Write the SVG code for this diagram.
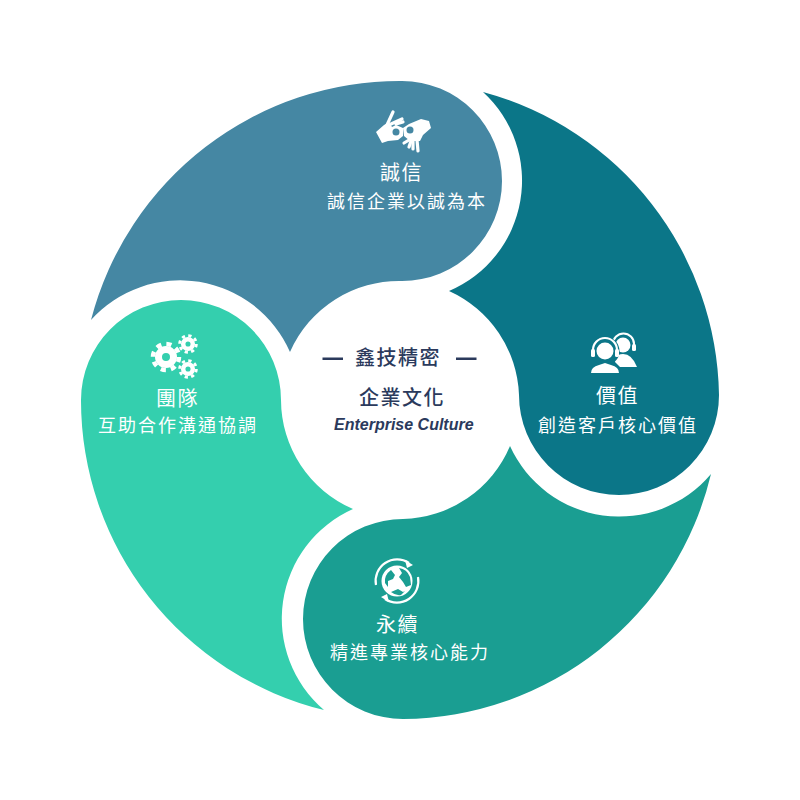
<svg xmlns="http://www.w3.org/2000/svg" xmlns:xlink="http://www.w3.org/1999/xlink" width="800" height="800" viewBox="0 0 800 800">
<style>
text{font-family:"Noto Sans CJK TC","Noto Sans",sans-serif}
.t{font-size:20px;fill:#fff;letter-spacing:1.5px}
.s{font-size:18px;fill:#fff;letter-spacing:2px}
.c{fill:#2b3a5c}
.i{fill:#fff}
.f{fill:none;stroke:#fff;stroke-linecap:round}
</style>
<defs>
<g id="gear"><circle r="7.5" fill="none" stroke="#fff" stroke-width="7"/><circle r="13" fill="none" stroke="#fff" stroke-width="4.500" stroke-dasharray="5.100 5.110"/></g>
</defs>
<rect width="800" height="800" fill="#fff"/>
<g id="node-top">
<path d="M91,320 A319,319 0 0 1 402,81 A100,100 0 0 1 402,281 A119,119 0 0 0 290,352 A120,120 0 0 0 91,320 Z" fill="#4587a3"/>
<g class="i"><path d="M376,132 L384,125 L389,122 L392,127 L396,125 L403,128 L403,136 L398,140 L388,141 L382,143 Z"/><path d="M429,121 L431,128 L423,135 L420,141 L410,141 L404,136 L403,128 L409,124 L421,119 Z"/></g>
<g class="f" stroke-width="3.200"><path d="M387,125 L393,112"/><path d="M391,124 L402,119"/><path d="M396,124 L403,122"/><path d="M417,140 L418,151"/><path d="M413,140 L413,149"/><path d="M409,140 L404,143"/><path d="M411,141 L409,147"/></g>
<circle cx="396" cy="132" r="3.500" fill="#4587a3"/><circle cx="410" cy="130" r="3.500" fill="#4587a3"/>
<text class="t" x="380" y="180">誠信</text>
<text class="s" x="327" y="208">誠信企業以誠為本</text>
</g>
<g id="node-right">
<path d="M483,92 A319,319 0 0 1 719,395 A100,100 0 0 1 519,395 A119,119 0 0 0 449,291 A120,120 0 0 0 483,92 Z" fill="#0b7688"/>
<g class="i"><circle cx="623" cy="345" r="7.500"/><path d="M614,358 Q618,354 623,354 Q632,354 637,367 L620,367 L615,362 Z"/><path d="M613,348 L613,344 A10.500,10.500 0 0 1 634,344 L634,350" fill="none" stroke="#fff" stroke-width="2"/><rect x="632" y="344" width="4" height="7" rx="1.500"/></g>
<circle cx="605" cy="351" r="14.500" fill="#0b7688"/>
<g class="i"><circle cx="605" cy="351" r="8.500"/><path d="M591,373 Q591,367 599,365 L605,363 L611,365 Q619,367 619,373 Z"/><path d="M593,355 L593,350 A12,12 0 0 1 617,350 L617,356" fill="none" stroke="#fff" stroke-width="2.200"/><rect x="591" y="349" width="4" height="8" rx="1.500"/><rect x="615" y="349" width="4" height="8" rx="1.500"/></g>
<text class="t" x="596" y="403">價值</text>
<text class="s" x="538" y="432">創造客戶核心價值</text>
</g>
<g id="node-bottom">
<path d="M711,474 A319,319 0 0 1 403,719 A100,100 0 0 1 403,519 A119,119 0 0 0 510,446 A120,120 0 0 0 711,474 Z" fill="#1a9e92"/>
<circle cx="397" cy="581" r="15.500" class="i"/>
<g fill="#1a9e92"><path d="M391,570 L395,575 L393,579 L388,581 L388,587 L385,583 Q384,575 391,570 Z"/><path d="M399,568 Q407,569 410,577 L411,585 L406,587 L403,582 L399,577 L402,573 Z"/><path d="M391,592 L398,589 L403,592 L405,591 L401,595 Q396,596 391,592 Z"/></g>
<path d="M376,585 A21.500,21.500 0 0 1 409,563 M418,577 A21.500,21.500 0 0 1 385,599" fill="none" stroke="#fff" stroke-width="2.200"/>
<path d="M405,560 L413,565 L407,568 Z M389,602 L381,597 L387,594 Z" class="i"/>
<text class="t" x="376" y="632">永續</text>
<text class="s" x="330" y="659">精進專業核心能力</text>
</g>
<g id="node-left">
<path d="M324,710 A319,319 0 0 1 81,400 A100,100 0 0 1 281,400 A119,119 0 0 0 353,509 A120,120 0 0 0 324,710 Z" fill="#34cfae"/>
<use xlink:href="#gear" transform="translate(166,357)"/>
<use xlink:href="#gear" transform="translate(188,344) scale(.64)"/>
<use xlink:href="#gear" transform="translate(188,369) scale(.64)"/>
<text class="t" x="156" y="406">團隊</text>
<text class="s" x="98" y="432">互助合作溝通協調</text>
</g>
<g id="node-center">
<rect x="322.500" y="357.500" width="20.500" height="2.500" class="c"/>
<rect x="456" y="357.500" width="20.500" height="2.500" class="c"/>
<text class="c" x="355" y="365" font-size="20" font-weight="500" letter-spacing="1.500">鑫技精密</text>
<text class="c" x="359" y="405" font-size="20" font-weight="500" letter-spacing="1.500">企業文化</text>
<text class="c" x="334" y="430" font-size="16" font-weight="700" font-style="italic" style="font-family:'Liberation Sans',Arial,sans-serif">Enterprise Culture</text>
</g>
</svg>
